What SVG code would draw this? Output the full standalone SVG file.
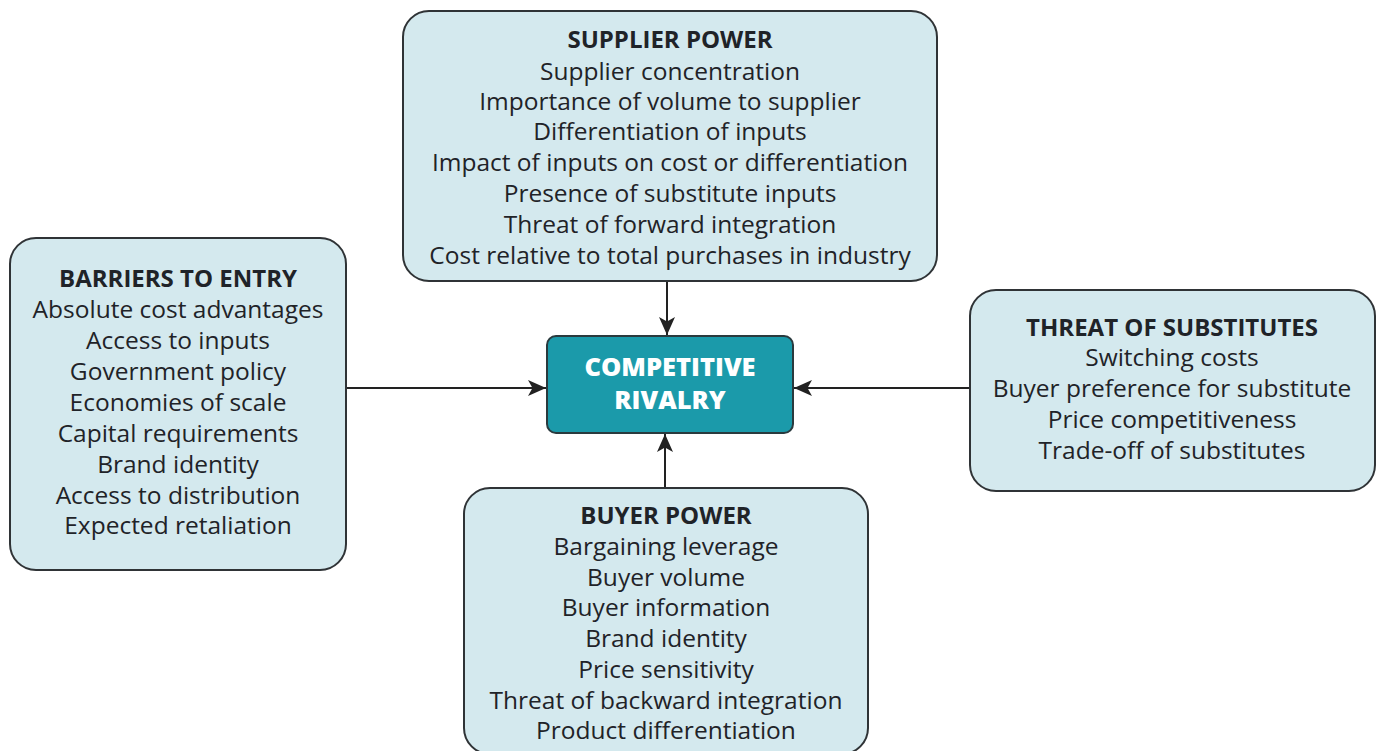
<svg xmlns="http://www.w3.org/2000/svg" width="1380" height="751" viewBox="0 0 1380 751">
<defs>
<style>
.box{fill:#d4e9ee;stroke:#2f3336;stroke-width:2}
.core{fill:#1b9aaa;stroke:#2a3a3e;stroke-width:2}
text{font-family:"Open Sans","Liberation Sans",sans-serif;font-size:24.5px;fill:#1f2328;text-anchor:middle}
.t{font-weight:bold;font-size:24px}
.w{fill:#ffffff;font-weight:800;font-size:25.5px}
.c{stroke:#222;stroke-width:2;fill:none;marker-end:url(#ah)}
</style>
<marker id="ah" viewBox="0 0 10 10" refX="10" refY="5" markerWidth="18" markerHeight="16" markerUnits="userSpaceOnUse" orient="auto" preserveAspectRatio="none">
<path d="M0,0 L10,5 L0,10 L2.5,5 Z" fill="#222"/>
</marker>
</defs>
<rect width="1380" height="751" fill="#ffffff"/>
<g id="connectors">
<line class="c" x1="667" y1="281" x2="667" y2="335"/>
<line class="c" x1="665" y1="488" x2="665" y2="434"/>
<line class="c" x1="346" y1="388" x2="546" y2="388"/>
<line class="c" x1="970" y1="388" x2="794" y2="388"/>
</g>
<g id="supplier">
<rect class="box" x="403" y="11" width="534" height="270" rx="26"/>
<text class="t" x="670" y="48">SUPPLIER POWER</text>
<text x="670" y="80">Supplier concentration</text>
<text x="670" y="110">Importance of volume to supplier</text>
<text x="670" y="140">Differentiation of inputs</text>
<text x="670" y="171">Impact of inputs on cost or differentiation</text>
<text x="670" y="202">Presence of substitute inputs</text>
<text x="670" y="233">Threat of forward integration</text>
<text x="670" y="264">Cost relative to total purchases in industry</text>
</g>
<g id="barriers">
<rect class="box" x="10" y="238" width="336" height="332" rx="26"/>
<text class="t" x="178" y="287">BARRIERS TO ENTRY</text>
<text x="178" y="318">Absolute cost advantages</text>
<text x="178" y="349">Access to inputs</text>
<text x="178" y="380">Government policy</text>
<text x="178" y="411">Economies of scale</text>
<text x="178" y="442">Capital requirements</text>
<text x="178" y="473">Brand identity</text>
<text x="178" y="504">Access to distribution</text>
<text x="178" y="534">Expected retaliation</text>
</g>
<g id="rivalry">
<rect class="core" x="547" y="336" width="246" height="97" rx="9"/>
<text class="w" x="670" y="376">COMPETITIVE</text>
<text class="w" x="670" y="409">RIVALRY</text>
</g>
<g id="substitutes">
<rect class="box" x="970" y="290" width="405" height="201" rx="26"/>
<text class="t" x="1172" y="336">THREAT OF SUBSTITUTES</text>
<text x="1172" y="366">Switching costs</text>
<text x="1172" y="397">Buyer preference for substitute</text>
<text x="1172" y="428">Price competitiveness</text>
<text x="1172" y="459">Trade-off of substitutes</text>
</g>
<g id="buyer">
<rect class="box" x="464" y="488" width="404" height="266" rx="26"/>
<text class="t" x="666" y="524">BUYER POWER</text>
<text x="666" y="555">Bargaining leverage</text>
<text x="666" y="586">Buyer volume</text>
<text x="666" y="616">Buyer information</text>
<text x="666" y="647">Brand identity</text>
<text x="666" y="678">Price sensitivity</text>
<text x="666" y="709">Threat of backward integration</text>
<text x="666" y="739">Product differentiation</text>
</g>
</svg>
